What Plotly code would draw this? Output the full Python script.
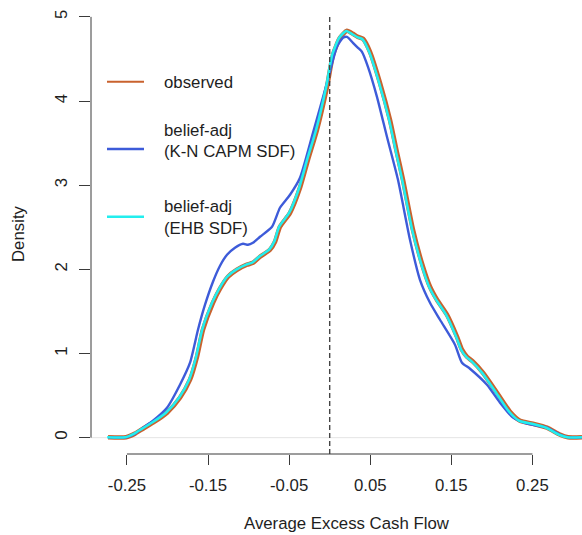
import plotly.graph_objects as go

# Kernel density estimates of the average excess cash flow
obs_x = [-0.2733, -0.2511, -0.2400, -0.2302, -0.2179, -0.2006, -0.1846, -0.1722, -0.1636, -0.1562,
         -0.1439, -0.1352, -0.1254, -0.1143, -0.1020, -0.0946, -0.0859, -0.0736, -0.0674, -0.0613,
         -0.0489, -0.0366, -0.0268, -0.0157, -0.0033, 0.0041, 0.0127, 0.0213, 0.0287, 0.0349,
         0.0411, 0.0497, 0.0620, 0.0743, 0.0830, 0.0904, 0.1027, 0.1150, 0.1237, 0.1323,
         0.1446, 0.1569, 0.1631, 0.1693, 0.1767, 0.1890, 0.2063, 0.2223, 0.2346, 0.2506,
         0.2679, 0.2839, 0.2938, 0.3111]
obs_y = [0.005, 0.005, 0.048, 0.107, 0.178, 0.297, 0.475, 0.689, 0.962, 1.283,
         1.603, 1.770, 1.912, 1.995, 2.055, 2.078, 2.150, 2.233, 2.328, 2.506,
         2.672, 2.969, 3.302, 3.658, 4.169, 4.549, 4.751, 4.834, 4.798, 4.762,
         4.739, 4.584, 4.216, 3.777, 3.385, 3.064, 2.470, 2.031, 1.793, 1.639,
         1.461, 1.200, 1.045, 0.962, 0.903, 0.772, 0.534, 0.309, 0.202, 0.166,
         0.119, 0.036, 0.005, 0.005]

kn_x = [-0.2733, -0.2511, -0.2400, -0.2302, -0.2179, -0.2006, -0.1846, -0.1722, -0.1624, -0.1537,
        -0.1439, -0.1352, -0.1266, -0.1168, -0.1069, -0.1007, -0.0946, -0.0859, -0.0711, -0.0613,
        -0.0489, -0.0366, -0.0206, -0.0033, 0.0090, 0.0164, 0.0213, 0.0287, 0.0349, 0.0398,
        0.0472, 0.0583, 0.0706, 0.0842, 0.0990, 0.1113, 0.1237, 0.1360, 0.1545, 0.1631,
        0.1730, 0.1939, 0.2100, 0.2260, 0.2433, 0.2679, 0.2839, 0.2938, 0.3111]
kn_y = [0.005, 0.005, 0.048, 0.119, 0.202, 0.356, 0.629, 0.891, 1.283, 1.580,
        1.853, 2.043, 2.173, 2.257, 2.304, 2.292, 2.316, 2.387, 2.506, 2.732,
        2.886, 3.088, 3.622, 4.216, 4.644, 4.751, 4.762, 4.691, 4.632, 4.584,
        4.406, 4.050, 3.575, 3.064, 2.352, 1.876, 1.603, 1.401, 1.105, 0.891,
        0.819, 0.629, 0.416, 0.238, 0.166, 0.119, 0.036, 0.005, 0.005]

ehb_x = [-0.2743, -0.2521, -0.2410, -0.2312, -0.2189, -0.2016, -0.1856, -0.1732, -0.1646, -0.1572,
         -0.1449, -0.1362, -0.1264, -0.1153, -0.1030, -0.0956, -0.0869, -0.0746, -0.0684, -0.0623,
         -0.0499, -0.0376, -0.0278, -0.0167, -0.0043, 0.0031, 0.0117, 0.0203, 0.0277, 0.0339,
         0.0401, 0.0487, 0.0610, 0.0733, 0.0820, 0.0894, 0.1017, 0.1140, 0.1227, 0.1313,
         0.1436, 0.1559, 0.1621, 0.1683, 0.1757, 0.1880, 0.2053, 0.2213, 0.2336, 0.2496,
         0.2669, 0.2829, 0.2928, 0.3111]
ehb_y = [0.005, 0.005, 0.049, 0.108, 0.180, 0.300, 0.478, 0.692, 0.965, 1.285,
         1.605, 1.772, 1.913, 1.996, 2.056, 2.079, 2.151, 2.234, 2.329, 2.507,
         2.673, 2.970, 3.303, 3.659, 4.170, 4.550, 4.752, 4.832, 4.796, 4.760,
         4.737, 4.582, 4.214, 3.775, 3.383, 3.062, 2.468, 2.029, 1.791, 1.637,
         1.459, 1.198, 1.043, 0.960, 0.901, 0.770, 0.532, 0.308, 0.201, 0.165,
         0.118, 0.035, 0.005, 0.005]

x_ticks = [-0.25, -0.15, -0.05, 0.05, 0.15, 0.25]
x_tick_text = ["-0.25", "-0.15", "-0.05", "0.05", "0.15", "0.25"]
y_ticks = [0, 1, 2, 3, 4, 5]

legend_labels = [["observed"], ["belief-adj", "(K-N CAPM SDF)"], ["belief-adj", "(EHB SDF)"]]

C_OBS = "#C9622E"
C_KN = "#3D5BD9"
C_EHB = "#22EEEE"
AXIS_C = "#3a3a3a"
TXT_C = "#1e1e1e"
FONT = "Liberation Sans, Arial, sans-serif"
FS = 16.8

fig = go.Figure()
fig.add_trace(go.Scatter(x=obs_x, y=obs_y, mode="lines",
                         line=dict(color=C_OBS, width=4.6, shape="spline", smoothing=0.6)))
fig.add_trace(go.Scatter(x=kn_x, y=kn_y, mode="lines",
                         line=dict(color=C_KN, width=2.4, shape="spline", smoothing=0.6)))
fig.add_trace(go.Scatter(x=ehb_x, y=ehb_y, mode="lines",
                         line=dict(color=C_EHB, width=2.6, shape="spline", smoothing=0.6)))

# plot area geometry in pixels (used for placing legend and titles)
L, R, T, B = 91, 582, 14, 454
W, H = R - L, B - T


def px(xp):
    return (xp - L) / W


def py(yp):
    return (B - yp) / H


shapes = [
    # zero reference line
    dict(type="line", xref="paper", yref="y", x0=0, x1=1, y0=0, y1=0,
         line=dict(color="#e4e4e4", width=1), layer="below"),
    # vertical dashed line at zero
    dict(type="line", xref="x", yref="paper", x0=0, x1=0, y0=0, y1=1,
         line=dict(color="#444444", width=1.4, dash="5px,3px")),
    # axis lines spanning the tick range
    dict(type="line", xref="x", yref="paper", x0=x_ticks[0], x1=x_ticks[-1], y0=0, y1=0,
         line=dict(color=AXIS_C, width=1)),
    dict(type="line", xref="paper", yref="y", x0=0, x1=0, y0=y_ticks[0], y1=y_ticks[-1],
         line=dict(color=AXIS_C, width=1)),
]

# legend
leg_line_y = [81.7, 149, 216.7]
leg_text_y = [[82.5], [130, 151.5], [206.7, 228]]
leg_colors = [C_OBS, C_KN, C_EHB]
leg_widths = [2.0, 2.6, 2.6]
annotations = []
for labels, ly, ty, col, lw in zip(legend_labels, leg_line_y, leg_text_y, leg_colors, leg_widths):
    shapes.append(dict(type="line", xref="paper", yref="paper", x0=px(107), x1=px(144),
                       y0=py(ly), y1=py(ly), line=dict(color=col, width=lw)))
    for lab, yy in zip(labels, ty):
        annotations.append(dict(text=lab, xref="paper", yref="paper", x=px(162), y=py(yy),
                                xanchor="left", yanchor="middle", showarrow=False,
                                font=dict(family=FONT, size=FS, color=TXT_C)))

annotations.append(dict(text="Average Excess Cash Flow", xref="paper", yref="paper",
                        x=px(346.7), y=py(535), xanchor="center", yanchor="bottom",
                        showarrow=False, font=dict(family=FONT, size=FS, color=TXT_C)))
annotations.append(dict(text="Density", xref="paper", yref="paper",
                        x=px(18), y=0.5, xanchor="center", yanchor="middle", textangle=-90,
                        showarrow=False, font=dict(family=FONT, size=FS, color=TXT_C)))

fig.update_layout(
    width=582, height=535,
    margin=dict(l=L, r=582 - R, t=T, b=535 - B, pad=0),
    paper_bgcolor="white", plot_bgcolor="white",
    showlegend=False,
    shapes=shapes, annotations=annotations,
    font=dict(family=FONT, size=FS, color=TXT_C),
)
fig.update_xaxes(range=[-0.2943, 0.3111], tickvals=x_ticks, ticktext=x_tick_text,
                 ticks="outside", ticklen=10, tickcolor=AXIS_C, tickwidth=1,
                 ticklabelstandoff=6,
                 showline=False, showgrid=False, zeroline=False,
                 tickfont=dict(family=FONT, size=FS, color=TXT_C))
fig.update_yaxes(range=[-0.194, 5.034], tickvals=y_ticks,
                 ticks="outside", ticklen=11, tickcolor=AXIS_C, tickwidth=1, tickangle=-90,
                 ticklabelstandoff=5,
                 showline=False, showgrid=False, zeroline=False,
                 tickfont=dict(family=FONT, size=FS, color=TXT_C))

fig.write_html("out.html")
